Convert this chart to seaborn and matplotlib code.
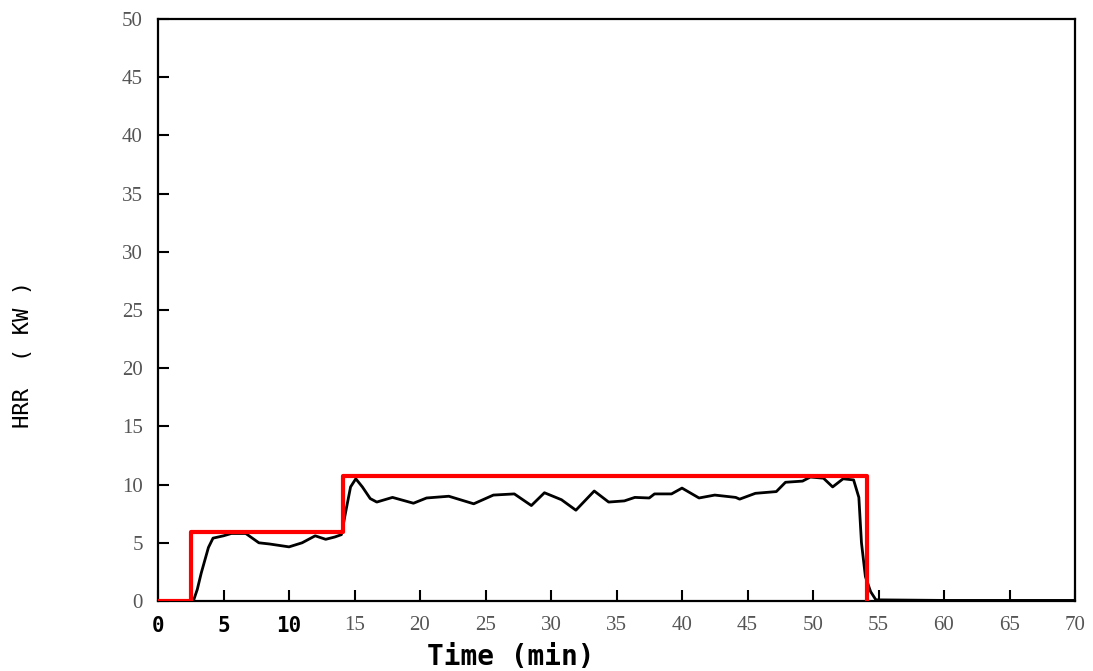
import matplotlib
matplotlib.use("Agg")
import matplotlib.pyplot as plt
import seaborn as sns
import pandas as pd

# measured heat release rate (black curve)
time_meas = [0, 2.7, 3.0, 3.3, 3.85, 4.2, 5.0, 5.6, 6.7, 7.7, 8.5, 10.0, 11.0, 12.0, 12.8,
             13.5, 14.0, 14.3, 14.7, 15.1, 15.6, 16.2, 16.7, 17.9, 19.5, 20.5, 22.2, 24.1,
             25.6, 27.2, 28.5, 29.5, 30.8, 31.9, 33.3, 34.4, 35.6, 36.4, 37.5, 37.9, 39.2,
             40.0, 41.3, 42.5, 44.1, 44.4, 45.6, 47.2, 47.9, 49.2, 49.8, 50.8, 51.5, 52.3,
             53.1, 53.5, 53.7, 54.0, 54.4, 54.8, 60.0, 70.0]
hrr_meas = [0, 0, 1.0, 2.4, 4.6, 5.4, 5.6, 5.8, 5.8, 5.0, 4.9, 4.65, 5.0, 5.6, 5.3,
            5.5, 5.7, 7.5, 9.8, 10.5, 9.8, 8.8, 8.5, 8.9, 8.4, 8.85, 9.0, 8.35,
            9.1, 9.2, 8.2, 9.3, 8.7, 7.8, 9.45, 8.5, 8.6, 8.9, 8.85, 9.2, 9.2,
            9.7, 8.85, 9.1, 8.9, 8.75, 9.25, 9.4, 10.2, 10.3, 10.65, 10.55, 9.8, 10.5,
            10.4, 8.9, 5.0, 2.1, 0.8, 0.1, 0.05, 0.05]

# design fire (red step curve)
time_step = [0, 2.5, 14.1, 54.1]
hrr_step = [0, 5.9, 10.7, 0]

x_ticks = [0, 5, 10, 15, 20, 25, 30, 35, 40, 45, 50, 55, 60, 65, 70]
y_ticks = [0, 5, 10, 15, 20, 25, 30, 35, 40, 45, 50]

sns.set_style("white")
plt.rcParams["font.family"] = ["DejaVu Sans"]

fig = plt.figure(figsize=(10.93, 6.71), dpi=100)
ax = fig.add_axes([158 / 1093, 1 - 601 / 671, 917 / 1093, 582 / 671])

df_meas = pd.DataFrame({"t": time_meas, "hrr": hrr_meas})
df_step = pd.DataFrame({"t": time_step, "hrr": hrr_step})

sns.lineplot(data=df_meas, x="t", y="hrr", ax=ax, color="black", linewidth=2.0,
             sort=False, estimator=None, zorder=2)
sns.lineplot(data=df_step, x="t", y="hrr", ax=ax, color="#ff0000", linewidth=3.0,
             drawstyle="steps-post", sort=False, estimator=None, zorder=3)

ax.set_xlim(0, 70)
ax.set_ylim(0, 50)
ax.set_xticks(x_ticks)
ax.set_yticks(y_ticks)
ax.set_xticklabels([str(v) for v in x_ticks])
ax.set_yticklabels([str(v) for v in y_ticks])

for s in ax.spines.values():
    s.set_color("black")
    s.set_linewidth(1.6)

ax.tick_params(axis="both", direction="in", length=8, width=1.5, color="black",
               bottom=True, left=True, top=False, right=False, pad=11)

for lab in ax.get_yticklabels():
    lab.set_fontfamily("Liberation Serif")
    lab.set_fontsize(15)
    lab.set_color("#555555")

for lab, v in zip(ax.get_xticklabels(), x_ticks):
    if v <= 10:
        lab.set_fontfamily("DejaVu Sans Mono")
        lab.set_fontweight("bold")
        lab.set_fontsize(15)
        lab.set_color("black")
    else:
        lab.set_fontfamily("Liberation Serif")
        lab.set_fontsize(15)
        lab.set_color("#555555")

ax.set_xlabel("Time (min)", fontfamily="DejaVu Sans Mono", fontweight="bold",
              fontsize=20, color="black", va="center")
ax.set_ylabel("HRR  ( KW )", fontfamily="DejaVu Sans Mono", fontsize=16, color="black")
ax.xaxis.set_label_coords(0.385, -0.096)
ax.yaxis.set_label_coords(-0.136, 0.423)

fig.savefig("out.png", dpi=100)
